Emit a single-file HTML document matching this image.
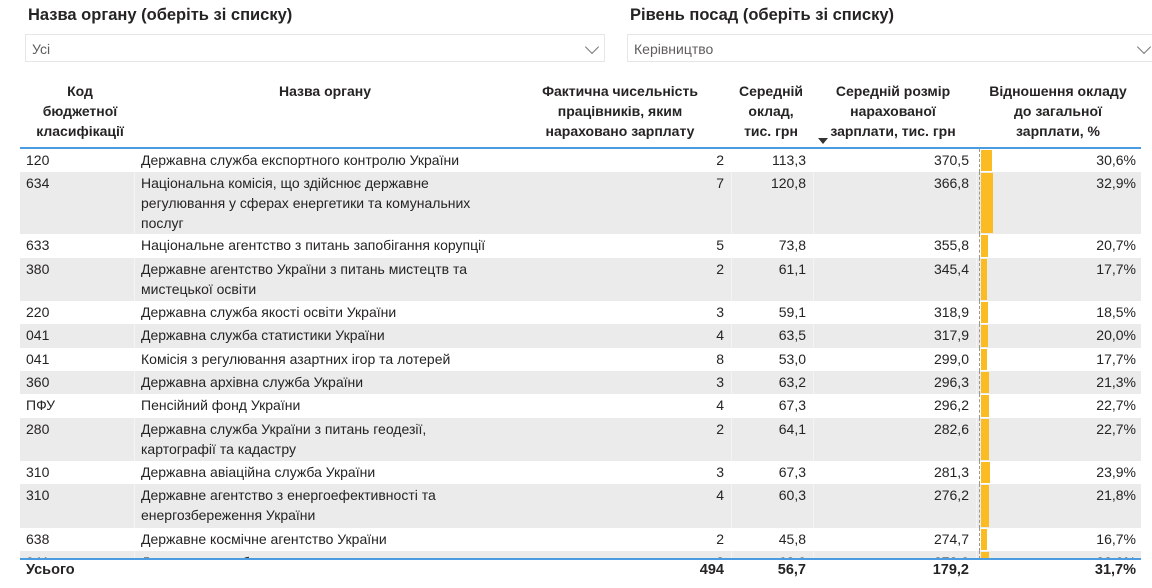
<!DOCTYPE html>
<html><head><meta charset="utf-8"><style>
body{margin:0;width:1152px;height:588px;overflow:hidden;background:#fff;font-family:"Liberation Sans","DejaVu Sans",sans-serif;color:#252423;position:relative}
.a{position:absolute;white-space:nowrap}
.t{font-size:16.5px;font-weight:bold;top:6px}
.dd{position:absolute;top:34px;height:28px;border:1px solid #e6e6e6;box-sizing:border-box;font-size:14px;color:#605e5c;line-height:28px;padding-left:6px}
.chev{position:absolute;top:7px;width:9px;height:9px;border-right:1.3px solid #777;border-bottom:1.3px solid #777;transform:rotate(45deg)}
.h{position:absolute;top:81px;font-size:14px;font-weight:bold;line-height:20px;text-align:center}
.r{position:absolute;left:20px;width:1121px;font-size:14px;line-height:20px}
.r.g{background:#ebebeb}
.r span{position:absolute;top:1px}
.sep{position:absolute;top:0;bottom:0;width:1px;background:#f4f4f4}
.bar{position:absolute;left:961px;top:1px;bottom:1px;background:#fbbb22}
.ax{position:absolute;left:959px;top:0;bottom:0;border-left:1px dashed #999}
</style></head><body>
<div class="a t" style="left:28px">Назва органу (оберіть зі списку)</div>
<div class="a t" style="left:630px">Рівень посад (оберіть зі списку)</div>
<div class="dd" style="left:25px;width:580px">Усі<div class="chev" style="left:561px"></div></div>
<div class="dd" style="left:627px;width:540px">Керівництво<div class="chev" style="left:511px"></div></div>

<div class="h" style="left:20px;width:120px">Код<br>бюджетної<br>класифікації</div>
<div class="h" style="left:140px;width:370px">Назва органу</div>
<div class="h" style="left:520px;width:200px">Фактична чисельність<br>працівників, яким<br>нараховано зарплату</div>
<div class="h" style="left:731px;width:80px">Середній<br>оклад,<br>тис. грн</div>
<div class="h" style="left:818px;width:150px">Середній розмір<br>нарахованої<br>зарплати, тис. грн</div>
<div class="h" style="left:978px;width:160px">Відношення окладу<br>до загальної<br>зарплати, %</div>
<div class="a" style="left:818px;top:138px;width:0;height:0;border-left:5px solid transparent;border-right:5px solid transparent;border-top:6px solid #333"></div>
<div class="a" style="left:20px;top:147px;width:1121px;height:2px;background:#4a9be0"></div>

<div id="rows"></div>
<div class="a" style="left:20px;top:558px;width:1121px;height:2px;background:#4a9be0"></div>
<div class="a" style="left:20px;top:560px;width:1121px;height:28px;background:#fff"></div>
<div class="a" style="left:26px;top:562px;font-size:14.5px;font-weight:bold;line-height:16px">Усього</div>
<div class="a" style="left:600px;width:124px;text-align:right;top:562px;font-size:14.5px;font-weight:bold;line-height:16px">494</div>
<div class="a" style="left:706px;width:100px;text-align:right;top:562px;font-size:14.5px;font-weight:bold;line-height:16px">56,7</div>
<div class="a" style="left:869px;width:100px;text-align:right;top:562px;font-size:14.5px;font-weight:bold;line-height:16px">179,2</div>
<div class="a" style="left:1036px;width:100px;text-align:right;top:562px;font-size:14.5px;font-weight:bold;line-height:16px">31,7%</div>
<script>
var d=[
[149,23,"120","Державна служба експортного контролю України","2","113,3","370,5",30.6],
[172,62,"634","Національна комісія, що здійснює державне<br>регулювання у сферах енергетики та комунальних<br>послуг","7","120,8","366,8",32.9],
[234,24,"633","Національне агентство з питань запобігання корупції","5","73,8","355,8",20.7],
[258,43,"380","Державне агентство України з питань мистецтв та<br>мистецької освіти","2","61,1","345,4",17.7],
[301,23,"220","Державна служба якості освіти України","3","59,1","318,9",18.5],
[324,24,"041","Державна служба статистики України","4","63,5","317,9",20.0],
[348,23,"041","Комісія з регулювання азартних ігор та лотерей","8","53,0","299,0",17.7],
[371,23,"360","Державна архівна служба України","3","63,2","296,3",21.3],
[394,24,"ПФУ","Пенсійний фонд України","4","67,3","296,2",22.7],
[418,43,"280","Державна служба України з питань геодезії,<br>картографії та кадастру","2","64,1","282,6",22.7],
[461,23,"310","Державна авіаційна служба України","3","67,3","281,3",23.9],
[484,44,"310","Державне агентство з енергоефективності та<br>енергозбереження України","4","60,3","276,2",21.8],
[528,23,"638","Державне космічне агентство України","2","45,8","274,7",16.7],
[551,23,"041","Державна служба","3","62,0","272,0",22.0]];
var h="";
d.forEach(function(r,i){
 var g=i%2==1?" g":"";
 h+='<div class="r'+g+'" style="top:'+r[0]+'px;height:'+r[1]+'px">'+
 (g?'<div class="sep" style="left:114px"></div><div class="sep" style="left:711px"></div><div class="sep" style="left:793px"></div><div class="sep" style="left:956px"></div>':'')+
 '<div class="ax"></div><div class="bar" style="width:'+Math.round(r[7]*0.36)+'px"></div>'+
 '<span style="left:6px">'+r[2]+'</span><span style="left:121px">'+r[3]+'</span>'+
 '<span style="left:600px;width:104px;text-align:right">'+r[4]+'</span>'+
 '<span style="left:686px;width:100px;text-align:right">'+r[5]+'</span>'+
 '<span style="left:849px;width:100px;text-align:right">'+r[6]+'</span>'+
 '<span style="left:1016px;width:100px;text-align:right">'+r[7].toFixed(1).replace(".",",")+'%</span></div>';
});
document.getElementById("rows").innerHTML=h;
</script>
</body></html>
